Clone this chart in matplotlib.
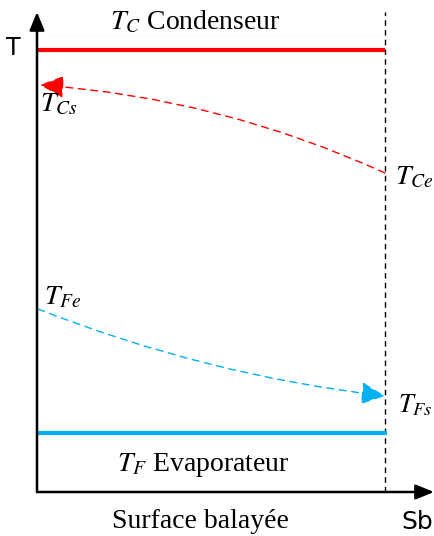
#!/usr/bin/env python3

import matplotlib.pyplot as plt
from matplotlib.patches import FancyArrowPatch

plt.rcParams['font.family'] = ['Liberation Serif', 'DejaVu Serif']
plt.rcParams['mathtext.fontset'] = 'stix'

# levels and end points (arbitrary units along T and swept surface)
sb = 348
tc_level = 442
tf_level = 59
tc_in, tc_out = 319, 407     # condenser side: enters at Sb, leaves at 0
tf_in, tf_out = 183, 96      # evaporator side: enters at 0, leaves at Sb
x_end = 397
t_top = 480

fig = plt.figure(figsize=(4.34, 5.36), dpi=100)
ax = fig.add_axes([0, 0, 1, 1])
ax.set_xlim(-37, x_end)
ax.set_ylim(-44, 492)
ax.axis('off')

# axes with arrow heads
ax.annotate('', xy=(0, t_top), xytext=(0, 0),
            arrowprops=dict(arrowstyle='-|>,head_length=1.1,head_width=0.45',
                            color='black', lw=1.8, shrinkA=0, shrinkB=0))
ax.annotate('', xy=(x_end, 0), xytext=(0, 0),
            arrowprops=dict(arrowstyle='-|>,head_length=1.1,head_width=0.45',
                            color='black', lw=1.8, shrinkA=0, shrinkB=0))

# end of swept surface
ax.plot([sb, sb], [0, t_top], color='black', lw=1.0, ls=(0, (4, 3)))

# source levels
ax.plot([0, sb], [tc_level, tc_level], color='#ff0000', lw=3.0, solid_capstyle='butt')
ax.plot([0, sb + 2], [tf_level, tf_level], color='#00b0f0', lw=3.0, solid_capstyle='butt')

# fluid temperature along the surface
red = FancyArrowPatch((sb, tc_in), (3, tc_out), connectionstyle='arc3,rad=0.09',
                      arrowstyle='-|>,head_length=15,head_width=7',
                      color='#ff0000', lw=1.0, ls=(0, (5, 4)), shrinkA=0, shrinkB=0)
blue = FancyArrowPatch((1, tf_in), (sb, tf_out), connectionstyle='arc3,rad=0.065',
                       arrowstyle='-|>,head_length=15,head_width=7',
                       color='#00b0f0', lw=1.0, ls=(0, (5, 4)), shrinkA=0, shrinkB=0)
ax.add_patch(red)
ax.add_patch(blue)

fs = 20
ax.text(158, 470, r'$T_C$ Condenseur', fontsize=fs, ha='center', va='center')
ax.text(166, 27, r'$T_F$ Evaporateur', fontsize=fs, ha='center', va='center')
ax.text(3, 387, r'$T_{Cs}$', fontsize=fs, ha='left', va='center')
ax.text(358, 314, r'$T_{Ce}$', fontsize=fs, ha='left', va='center')
ax.text(7, 194, r'$T_{Fe}$', fontsize=fs, ha='left', va='center')
ax.text(361, 87, r'$T_{Fs}$', fontsize=19, ha='left', va='center')
ax.text(-24, 444, 'T', fontsize=17, family='DejaVu Sans', ha='center', va='center')
ax.text(163, -30, 'Surface balayée', fontsize=fs, ha='center', va='center')
ax.text(380, -30, 'Sb', fontsize=18, family='DejaVu Sans', ha='center', va='center')

plt.savefig('out.png')
